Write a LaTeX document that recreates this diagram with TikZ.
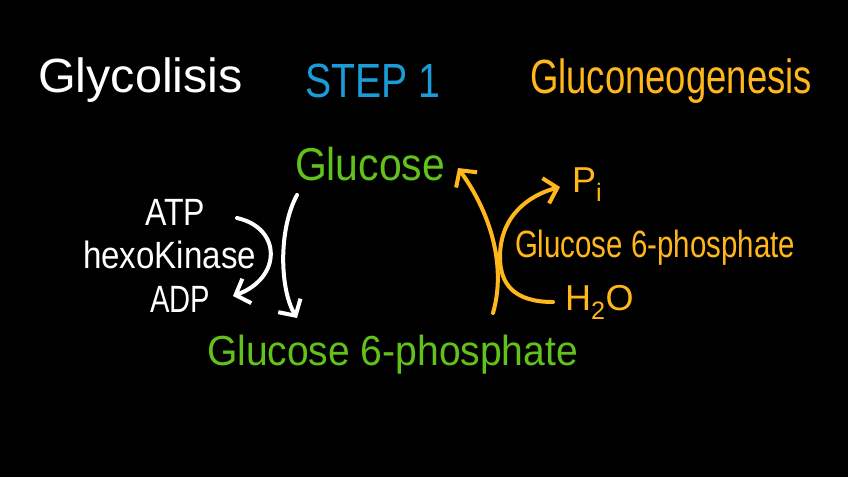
\documentclass[tikz,border=0pt]{standalone}
\usepackage{fontspec}
\setmainfont{Liberation Sans}
\usepackage{graphicx}
\usetikzlibrary{arrows.meta}
\definecolor{gblue}{RGB}{27,156,216}
\definecolor{gorange}{RGB}{255,183,27}
\definecolor{ggreen}{RGB}{98,194,28}
\newcommand{\fitw}[2]{\resizebox{#1}{\height}{#2}}
\begin{document}
\begin{tikzpicture}[x=1pt,y=-1pt,
  lbl/.style={inner sep=0pt, outer sep=0pt, anchor=base west},
  arr/.style={line width=4pt, line cap=round, line join=round, -{Straight Barb[length=12pt,width=26pt,line width=4pt]}},
  curve/.style={line width=4pt, line cap=round}]
\fill[black] (0,0) rectangle (848,477);
\useasboundingbox (0,0) rectangle (848,477);

% titles
\node[lbl, white] (glyco) at (38,92) {\fontsize{48}{48}\selectfont\fitw{205pt}{Glycolisis}};
\node[lbl, gblue] (step) at (305,97) {\fontsize{48}{48}\selectfont\fitw{135pt}{STEP 1}};
\node[lbl, gorange] (gluconeo) at (530,93) {\fontsize{48}{48}\selectfont\fitw{282pt}{Gluconeogenesis}};

% main species
\node[lbl, ggreen] (glucose) at (295,180) {\fontsize{46}{46}\selectfont\fitw{150pt}{Glucose}};
\node[lbl, ggreen] (g6p) at (207,365) {\fontsize{42}{42}\selectfont\fitw{371pt}{Glucose 6-phosphate}};

% glycolysis side
\node[lbl, white] (atp) at (145,225) {\fontsize{38}{38}\selectfont\fitw{60pt}{ATP}};
\node[lbl, white] (hexo) at (83,268) {\fontsize{38}{38}\selectfont\fitw{173pt}{hexoKinase}};
\node[lbl, white] (adp) at (150,312) {\fontsize{38}{38}\selectfont\fitw{60pt}{ADP}};

% gluconeogenesis side
\node[lbl, gorange] (pi) at (572,192) {\fontsize{36}{36}\selectfont P\textsubscript{i}};
\node[lbl, gorange] (g6pase) at (515,257) {\fontsize{38}{38}\selectfont\fitw{280pt}{Glucose 6-phosphate}};
\node[lbl, gorange] (h2o) at (565,310) {\fontsize{36}{36}\selectfont H\textsubscript{2}O};

% connector coordinates
\coordinate (gA) at (297,195);
\coordinate (gB) at (297,318);
\coordinate (aA) at (237,218);
\coordinate (aB) at (233,296);
\coordinate (oA) at (493,313);
\coordinate (oB) at (458,168);
\coordinate (hA) at (553,302);
\coordinate (hM) at (500,257);
\coordinate (pB) at (560,187);

% white arrows
\draw[arr, white] (gA) .. controls (278,230) and (280,290) .. (gB);
\draw[arr, white] (aA) .. controls (282,228) and (282,278) .. (aB);

% orange arrows
\draw[arr, gorange] (oA) .. controls (506,268) and (492,215) .. (oB);
\draw[arr, gorange] (hA) .. controls (515,302) and (500,285) .. (hM) .. controls (500,215) and (530,195) .. (pB);
\end{tikzpicture}
\end{document}
